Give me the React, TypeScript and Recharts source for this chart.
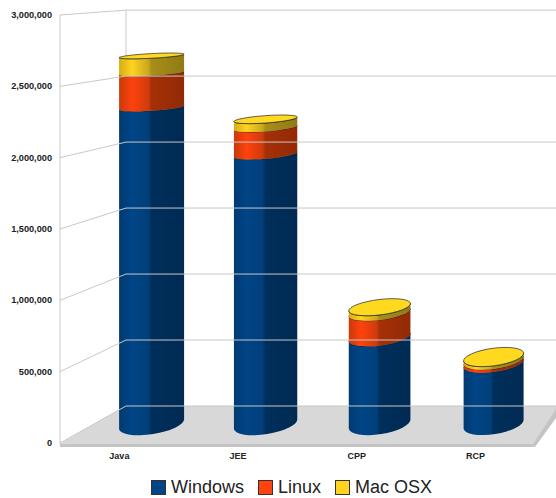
import React from 'react';
import { BarChart, Bar, XAxis, YAxis, Legend } from 'recharts';

const categories = ['Java', 'JEE', 'CPP', 'RCP'];
const windows = [2307000, 1965000, 633000, 444000];
const linux = [251000, 195000, 182000, 22000];
const macOsx = [124000, 60000, 36000, 22000];
const yTicks = [0, 500000, 1000000, 1500000, 2000000, 2500000, 3000000];

const data = categories.map((name, i) => ({
  name,
  windows: windows[i],
  linux: linux[i],
  macOsx: macOsx[i],
}));

const FONT = '"Liberation Sans", Arial, sans-serif';
const SIDES: Record<string, string[]> = {
  win: ['#003a72', '#004586', '#003f7a', '#002f5c', '#002a52'],
  lin: ['#c83a08', '#ff420e', '#d03b0c', '#a53007', '#922a05'],
  mac: ['#d4ae14', '#ffd320', '#c9a81c', '#a88e18', '#8f7a15'],
};

// the bars stand half way back on the floor, the axis is on the front edge
const depthY = (y: number) => 424 + (y - 443) * 0.962;
const backY = (y: number) => 406 + (y - 443) * 0.925;
const tilt = (y: number) => 3 + ((y - 50) / 375) * 6;
const minorR = (y: number) => 2.2 + ((y - 50) / 375) * 8;

function Cylinder(props: any) {
  const { x, y, width, height, grad, cap, color } = props;
  const cx = 151.5 + (x + width / 2 - 119.4) * 0.96;
  const half = (65 - ((cx - 151) * 5) / 342) / 2;
  const top = depthY(y);
  const bottom = depthY(y + height);
  const end = (yy: number) => {
    const t = (tilt(yy) * Math.PI) / 180;
    return { dy: half * Math.tan(t), rx: half / Math.cos(t), ry: minorR(yy), deg: tilt(yy) };
  };
  const a = end(top);
  const b = end(bottom);
  const l = cx - half;
  const r = cx + half;
  const body =
    `M${l},${top + a.dy} L${l},${bottom + b.dy} ` +
    `A${b.rx},${b.ry} ${-b.deg} 0 0 ${r},${bottom - b.dy} L${r},${top - a.dy} ` +
    `A${a.rx},${a.ry} ${-a.deg} 0 1 ${l},${top + a.dy} Z`;
  const rim = `M${r},${top - a.dy} A${a.rx},${a.ry} ${-a.deg} 0 1 ${l},${top + a.dy}`;
  return (
    <g>
      <path d={body} fill={`url(#${grad})`} />
      <path d={rim} fill="none" stroke="#1c1c1c" strokeWidth={0.7} />
      {cap && (
        <ellipse
          cx={cx}
          cy={top}
          rx={a.rx}
          ry={a.ry}
          transform={`rotate(${-a.deg} ${cx} ${top})`}
          fill={color}
          stroke="#2a2a2a"
          strokeWidth={0.7}
        />
      )}
    </g>
  );
}

// tick label plus the wall lines, which go through the same axis scale
function WallTick(props: any) {
  const { y, payload } = props;
  return (
    <g>
      <polyline
        points={`60,${y} 126,${backY(y)} 556,${backY(y)}`}
        fill="none"
        stroke="#c8c8c8"
        strokeWidth={1}
      />
      <text x={52} y={y + 3} textAnchor="end" fontFamily={FONT} fontSize={9.2} fontWeight="bold" fill="#222">
        {payload.value.toLocaleString('en-US')}
      </text>
    </g>
  );
}

function CategoryTick(props: any) {
  const { x, y, payload } = props;
  return (
    <text x={x} y={y + 8} textAnchor="middle" fontFamily={FONT} fontSize={9} fontWeight="bold" fill="#222">
      {payload.value}
    </text>
  );
}

function LegendRow(props: any) {
  return (
    <div style={{ display: 'flex', marginLeft: 151, marginTop: 9, fontFamily: FONT, fontSize: 18, color: '#222', lineHeight: '20px' }}>
      {props.payload.map((p: any) => (
        <div key={p.value} style={{ display: 'flex', alignItems: 'center', marginRight: 14 }}>
          <span style={{ width: 13, height: 13, background: p.color, border: '1px solid #333', marginRight: 5 }} />
          {p.value}
        </div>
      ))}
    </div>
  );
}

export default function App() {
  return (
    <div style={{ position: 'absolute', left: 0, top: 0, width: 556, height: 498, background: '#fff' }}>
      <BarChart
        width={556}
        height={498}
        data={data}
        margin={{ top: 15, right: 21, bottom: 0, left: 0 }}
        barSize={65}
      >
        <defs>
          {Object.entries(SIDES).map(([id, c]) => (
            <linearGradient key={id} id={id} x1="0" y1="0" x2="1" y2="0">
              <stop offset="0" stopColor={c[0]} />
              <stop offset="0.2" stopColor={c[1]} />
              <stop offset="0.45" stopColor={c[2]} />
              <stop offset="0.5" stopColor={c[3]} />
              <stop offset="1" stopColor={c[4]} />
            </linearGradient>
          ))}
        </defs>
        <polygon points="60,444 126,406 556,406 556,418 535,447 60,447" fill="#c4c4c4" />
        <polygon points="60,444 126,406 556,406 556,409 533,444" fill="#d8d8d8" />
        <line x1={126} y1={10} x2={126} y2={406} stroke="#c8c8c8" />
        <line x1={60} y1={15} x2={60} y2={444} stroke="#c8c8c8" />
        <YAxis
          width={60}
          domain={[0, 3000000]}
          ticks={yTicks}
          axisLine={false}
          tickLine={false}
          interval={0}
          tick={<WallTick />}
        />
        <XAxis dataKey="name" height={25} axisLine={false} tickLine={false} tick={<CategoryTick />} />
        <Bar
          dataKey="windows"
          name="Windows"
          stackId="a"
          fill="#004586"
          isAnimationActive={false}
          shape={(p: any) => <Cylinder {...p} grad="win" />}
        />
        <Bar
          dataKey="linux"
          name="Linux"
          stackId="a"
          fill="#ff420e"
          isAnimationActive={false}
          shape={(p: any) => <Cylinder {...p} grad="lin" />}
        />
        <Bar
          dataKey="macOsx"
          name="Mac OSX"
          stackId="a"
          fill="#ffd320"
          isAnimationActive={false}
          shape={(p: any) => <Cylinder {...p} grad="mac" cap color="#ffd920" />}
        />
        <Legend height={30} verticalAlign="bottom" align="left" itemSorter={null} content={<LegendRow />} />
      </BarChart>
    </div>
  );
}
